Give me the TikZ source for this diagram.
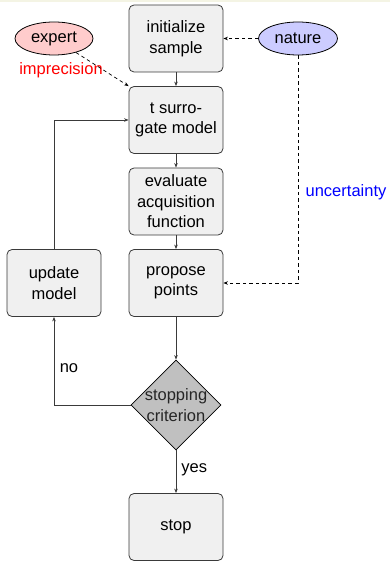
\documentclass[tikz,border=0pt]{standalone}
\usepackage{fontspec}
\setmainfont{Liberation Sans}
\usetikzlibrary{shapes.geometric,arrows.meta}
\definecolor{boxfill}{HTML}{F0F0F0}
\definecolor{boxline}{HTML}{3A3A3A}
\definecolor{dia}{HTML}{C0C0C0}
\definecolor{pinkfill}{HTML}{FFCCCC}
\definecolor{bluefill}{HTML}{CCCCFF}
\definecolor{topstrip}{HTML}{F4F4E4}
\tikzset{
  stepbox/.style={draw=boxline, line width=0.8pt, fill=boxfill, rounded corners=5pt,
    minimum width=94pt, minimum height=67pt, inner sep=0pt, align=center,
    font=\fontsize{16.5}{20.5}\selectfont},
  oval/.style={draw=black, line width=0.8pt, ellipse, minimum width=78pt, minimum height=33pt,
    inner sep=0pt, font=\fontsize{16.5}{20.5}\selectfont},
  lbl/.style={inner sep=0pt, font=\fontsize{16.5}{20.5}\selectfont},
  conn/.style={draw=boxline, line width=0.7pt, -{Stealth[length=4.5pt,width=3.5pt]}},
  dconn/.style={draw=black, line width=0.7pt, dash pattern=on 3.5pt off 3pt, -{Stealth[length=4.5pt,width=3.5pt]}},
}
\begin{document}
\begin{tikzpicture}[x=1pt,y=-1pt]
\useasboundingbox (0,0) rectangle (390,561);
\fill[topstrip] (0,0) rectangle (390,2.5);
\node[stepbox] (init) at (176,38.5) {initialize\\sample};
\node[stepbox] (surr) at (176,120) {t surro-\\gate model};
\node[stepbox] (eval) at (176,201.5) {evaluate\\acquisition\\function};
\node[stepbox] (prop) at (176,283) {propose\\points};
\node[stepbox] (upd) at (54,283) {update\\model};
\node[stepbox] (stop) at (176,527) {stop};
\node[draw=black, line width=0.8pt, fill=dia, diamond, minimum width=90pt, minimum height=90pt, inner sep=0pt] (crit) at (176,405) {};
\node[lbl, align=center, text=black!85] (critlbl) at (crit.center) {stopping\\criterion};
\node[oval, fill=pinkfill] (expert) at (54,38.5) {expert};
\node[oval, fill=bluefill, minimum width=79pt] (nature) at (298,38.5) {nature};
\node[lbl, text=red] (impr) at (61,70) {imprecision};
\node[lbl, text=blue] (unc) at (346,192) {uncertainty};
\coordinate (natcorner) at (298,283);
\coordinate (nocorner) at (54,405);
\coordinate (updcorner) at (54,120);

\draw[conn] (init) -- (surr);
\draw[conn] (surr) -- (eval);
\draw[conn] (eval) -- (prop);
\draw[conn] (prop) -- (crit);
\draw[conn] (crit) -- node[lbl, right=5pt, pos=0.45] (yes) {yes} (stop);
\draw[conn] (crit.west) -- (nocorner) -- (upd.south);
\node[lbl] (no) at (69,368) {no};
\draw[conn] (upd.north) -- (updcorner) -- (surr.west);
\draw[dconn] (nature) -- (init);
\draw[dconn] (expert) -- (surr.north west);
\draw[dconn] (nature.south) -- (natcorner) -- (prop.east);
\end{tikzpicture}
\end{document}
